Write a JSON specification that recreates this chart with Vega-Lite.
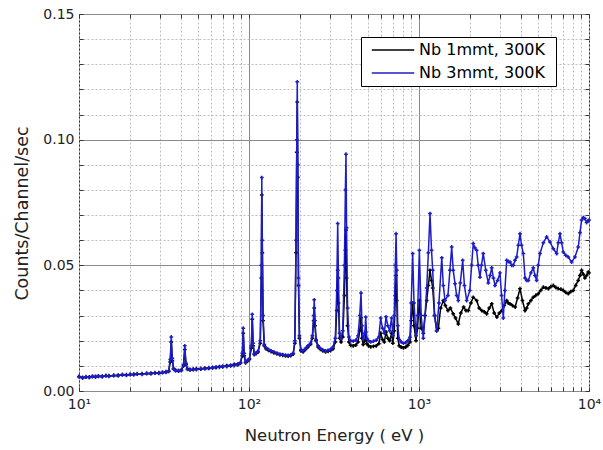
{
  "$schema": "https://vega.github.io/schema/vega-lite/v6.json",
  "autosize": {"type": "none"},
  "padding": {"left": 79, "top": 14, "right": 14, "bottom": 59},
  "width": 510,
  "height": 377,
  "background": "#ffffff",
  "config": {
    "view": {"stroke": "#333333", "strokeWidth": 1},
    "font": "DejaVu Sans",
    "axis": {"labelFont": "DejaVu Sans", "titleFont": "DejaVu Sans", "labelColor": "#222", "titleColor": "#222", "titleFontWeight": "normal"}
  },
  "datasets": {
    "k": [
      {"e":10,"c":0.0058},{"e":10.5,"c":0.0054},{"e":11,"c":0.0055},{"e":11.5,"c":0.0056},{"e":12,"c":0.0057},{"e":12.5,"c":0.0058},{"e":13,"c":0.0058},{"e":13.7,"c":0.0059},{"e":14.4,"c":0.006},{"e":15,"c":0.0061},{"e":16,"c":0.0061},{"e":17,"c":0.0063},{"e":18,"c":0.0064},{"e":19,"c":0.0065},{"e":20,"c":0.0065},{"e":21,"c":0.0067},{"e":22,"c":0.0067},{"e":23.5,"c":0.0069},{"e":25,"c":0.0069},{"e":26.5,"c":0.0071},{"e":28,"c":0.0071},{"e":29.5,"c":0.0073},{"e":31,"c":0.0073},{"e":32.5,"c":0.0077},{"e":33.7,"c":0.0078},{"e":34.4,"c":0.0115},{"e":34.9,"c":0.0195},{"e":35.4,"c":0.012},{"e":36,"c":0.0088},{"e":37,"c":0.0083},{"e":38.5,"c":0.0079},{"e":40,"c":0.0084},{"e":41.2,"c":0.01},{"e":41.9,"c":0.0165},{"e":42.6,"c":0.0105},{"e":43.5,"c":0.0088},{"e":45,"c":0.0086},{"e":47,"c":0.0085},{"e":49,"c":0.0089},{"e":52,"c":0.0087},{"e":55,"c":0.0091},{"e":58,"c":0.009},{"e":61,"c":0.0094},{"e":64,"c":0.0093},{"e":67,"c":0.0097},{"e":70,"c":0.0096},{"e":74,"c":0.0101},{"e":78,"c":0.01},{"e":82,"c":0.0106},{"e":86,"c":0.0104},{"e":89,"c":0.0112},{"e":91.3,"c":0.014},{"e":92.5,"c":0.023},{"e":93.7,"c":0.014},{"e":95.5,"c":0.0112},{"e":98,"c":0.0119},{"e":100.5,"c":0.0125},{"e":103.2,"c":0.017},{"e":104.5,"c":0.0285},{"e":105.8,"c":0.018},{"e":107.5,"c":0.0145},{"e":110,"c":0.0149},{"e":113,"c":0.0155},{"e":116.5,"c":0.019},{"e":118.2,"c":0.045},{"e":118.9,"c":0.078},{"e":119.8,"c":0.055},{"e":121,"c":0.028},{"e":123,"c":0.018},{"e":126,"c":0.0168},{"e":130,"c":0.0162},{"e":135,"c":0.0157},{"e":140,"c":0.0152},{"e":146,"c":0.0148},{"e":152,"c":0.0144},{"e":158,"c":0.0142},{"e":164,"c":0.014},{"e":170,"c":0.0139},{"e":176,"c":0.0141},{"e":182,"c":0.0147},{"e":186,"c":0.019},{"e":189,"c":0.055},{"e":191,"c":0.095},{"e":192.3,"c":0.115},{"e":193.7,"c":0.085},{"e":195.5,"c":0.042},{"e":198,"c":0.021},{"e":202,"c":0.016},{"e":208,"c":0.0156},{"e":215,"c":0.0165},{"e":222,"c":0.0175},{"e":230,"c":0.0185},{"e":236,"c":0.021},{"e":240,"c":0.028},{"e":242,"c":0.033},{"e":244.5,"c":0.026},{"e":248,"c":0.02},{"e":255,"c":0.0175},{"e":263,"c":0.0166},{"e":272,"c":0.016},{"e":282,"c":0.0156},{"e":292,"c":0.0158},{"e":302,"c":0.0161},{"e":312,"c":0.0168},{"e":322,"c":0.0195},{"e":328,"c":0.032},{"e":332.5,"c":0.048},{"e":336,"c":0.035},{"e":341,"c":0.021},{"e":348,"c":0.0195},{"e":356,"c":0.0215},{"e":364,"c":0.038},{"e":369,"c":0.056},{"e":372,"c":0.064},{"e":375,"c":0.045},{"e":380,"c":0.026},{"e":387,"c":0.0195},{"e":396,"c":0.0182},{"e":410,"c":0.018},{"e":425,"c":0.0183},{"e":438,"c":0.0195},{"e":448,"c":0.024},{"e":456,"c":0.029},{"e":462,"c":0.021},{"e":470,"c":0.0185},{"e":480,"c":0.02},{"e":486,"c":0.0235},{"e":493,"c":0.0188},{"e":505,"c":0.018},{"e":520,"c":0.0176},{"e":540,"c":0.0178},{"e":560,"c":0.018},{"e":580,"c":0.0188},{"e":595,"c":0.023},{"e":610,"c":0.0205},{"e":625,"c":0.0195},{"e":640,"c":0.0235},{"e":655,"c":0.021},{"e":672,"c":0.02},{"e":690,"c":0.023},{"e":702,"c":0.019},{"e":715,"c":0.024},{"e":726,"c":0.038},{"e":733,"c":0.046},{"e":740,"c":0.036},{"e":750,"c":0.021},{"e":765,"c":0.018},{"e":785,"c":0.0175},{"e":810,"c":0.0172},{"e":835,"c":0.0175},{"e":860,"c":0.0182},{"e":885,"c":0.0195},{"e":900,"c":0.028},{"e":918,"c":0.035},{"e":935,"c":0.026},{"e":960,"c":0.02},{"e":980,"c":0.025},{"e":1005,"c":0.036},{"e":1030,"c":0.025},{"e":1060,"c":0.023},{"e":1085,"c":0.03},{"e":1110,"c":0.036},{"e":1135,"c":0.042},{"e":1161,"c":0.048},{"e":1185,"c":0.044},{"e":1204,"c":0.041},{"e":1235,"c":0.03},{"e":1271,"c":0.024},{"e":1300,"c":0.025},{"e":1340,"c":0.033},{"e":1390,"c":0.036},{"e":1430,"c":0.034},{"e":1480,"c":0.032},{"e":1530,"c":0.033},{"e":1590,"c":0.0307},{"e":1640,"c":0.029},{"e":1703,"c":0.0267},{"e":1760,"c":0.031},{"e":1830,"c":0.0334},{"e":1890,"c":0.032},{"e":1950,"c":0.032},{"e":2020,"c":0.035},{"e":2085,"c":0.0373},{"e":2183,"c":0.036},{"e":2260,"c":0.033},{"e":2340,"c":0.032},{"e":2420,"c":0.0315},{"e":2500,"c":0.0307},{"e":2590,"c":0.033},{"e":2678,"c":0.0347},{"e":2770,"c":0.031},{"e":2870,"c":0.0294},{"e":2970,"c":0.031},{"e":3070,"c":0.032},{"e":3170,"c":0.034},{"e":3280,"c":0.036},{"e":3350,"c":0.035},{"e":3431,"c":0.0347},{"e":3550,"c":0.034},{"e":3680,"c":0.0334},{"e":3800,"c":0.037},{"e":3927,"c":0.0407},{"e":4060,"c":0.036},{"e":4204,"c":0.032},{"e":4300,"c":0.033},{"e":4398,"c":0.0347},{"e":4550,"c":0.036},{"e":4703,"c":0.0373},{"e":4860,"c":0.038},{"e":5030,"c":0.0387},{"e":5200,"c":0.04},{"e":5390,"c":0.0413},{"e":5580,"c":0.041},{"e":5770,"c":0.0407},{"e":5960,"c":0.0415},{"e":6167,"c":0.042},{"e":6380,"c":0.0412},{"e":6600,"c":0.0407},{"e":6830,"c":0.0405},{"e":7060,"c":0.04},{"e":7300,"c":0.0392},{"e":7553,"c":0.0387},{"e":7800,"c":0.0395},{"e":8080,"c":0.04},{"e":8350,"c":0.042},{"e":8646,"c":0.044},{"e":8850,"c":0.046},{"e":9045,"c":0.048},{"e":9250,"c":0.0465},{"e":9463,"c":0.045},{"e":9680,"c":0.046},{"e":9900,"c":0.0473},{"e":10000,"c":0.047}
    ],
    "b": [
      {"e":10,"c":0.0056},{"e":10.5,"c":0.0051},{"e":11,"c":0.0057},{"e":11.5,"c":0.0053},{"e":12,"c":0.0059},{"e":12.5,"c":0.0055},{"e":13,"c":0.006},{"e":13.7,"c":0.0056},{"e":14.4,"c":0.0062},{"e":15,"c":0.0058},{"e":16,"c":0.0063},{"e":17,"c":0.006},{"e":18,"c":0.0066},{"e":19,"c":0.0062},{"e":20,"c":0.0067},{"e":21,"c":0.0064},{"e":22,"c":0.0069},{"e":23.5,"c":0.0066},{"e":25,"c":0.0071},{"e":26.5,"c":0.0068},{"e":28,"c":0.0073},{"e":29.5,"c":0.007},{"e":31,"c":0.0075},{"e":32.5,"c":0.0074},{"e":33.7,"c":0.008},{"e":34.4,"c":0.0125},{"e":34.9,"c":0.0215},{"e":35.4,"c":0.013},{"e":36,"c":0.009},{"e":37,"c":0.008},{"e":38.5,"c":0.0082},{"e":40,"c":0.0081},{"e":41.2,"c":0.0105},{"e":41.9,"c":0.018},{"e":42.6,"c":0.011},{"e":43.5,"c":0.0086},{"e":45,"c":0.0083},{"e":47,"c":0.0088},{"e":49,"c":0.0085},{"e":52,"c":0.009},{"e":55,"c":0.0088},{"e":58,"c":0.0093},{"e":61,"c":0.0091},{"e":64,"c":0.0096},{"e":67,"c":0.0094},{"e":70,"c":0.0099},{"e":74,"c":0.0097},{"e":78,"c":0.0103},{"e":82,"c":0.0101},{"e":86,"c":0.0108},{"e":89,"c":0.011},{"e":91.3,"c":0.015},{"e":92.5,"c":0.025},{"e":93.7,"c":0.015},{"e":95.5,"c":0.0115},{"e":98,"c":0.0122},{"e":100.5,"c":0.0128},{"e":103.2,"c":0.018},{"e":104.5,"c":0.0305},{"e":105.8,"c":0.019},{"e":107.5,"c":0.0148},{"e":110,"c":0.0152},{"e":113,"c":0.0158},{"e":116.5,"c":0.02},{"e":118.2,"c":0.05},{"e":118.9,"c":0.0849},{"e":119.8,"c":0.06},{"e":121,"c":0.03},{"e":123,"c":0.0185},{"e":126,"c":0.0172},{"e":130,"c":0.0166},{"e":135,"c":0.016},{"e":140,"c":0.0156},{"e":146,"c":0.0151},{"e":152,"c":0.0147},{"e":158,"c":0.0145},{"e":164,"c":0.0143},{"e":170,"c":0.0142},{"e":176,"c":0.0144},{"e":182,"c":0.015},{"e":186,"c":0.02},{"e":189,"c":0.06},{"e":191,"c":0.1},{"e":192.3,"c":0.123},{"e":193.7,"c":0.09},{"e":195.5,"c":0.045},{"e":198,"c":0.022},{"e":202,"c":0.0165},{"e":208,"c":0.016},{"e":215,"c":0.017},{"e":222,"c":0.018},{"e":230,"c":0.019},{"e":236,"c":0.022},{"e":240,"c":0.03},{"e":242,"c":0.0363},{"e":244.5,"c":0.028},{"e":248,"c":0.0205},{"e":255,"c":0.018},{"e":263,"c":0.017},{"e":272,"c":0.0164},{"e":282,"c":0.016},{"e":292,"c":0.0162},{"e":302,"c":0.0166},{"e":312,"c":0.0175},{"e":322,"c":0.021},{"e":328,"c":0.04},{"e":332.5,"c":0.0666},{"e":336,"c":0.045},{"e":341,"c":0.023},{"e":348,"c":0.021},{"e":356,"c":0.024},{"e":364,"c":0.05},{"e":369,"c":0.08},{"e":372,"c":0.0942},{"e":375,"c":0.065},{"e":380,"c":0.033},{"e":387,"c":0.0215},{"e":396,"c":0.02},{"e":410,"c":0.0198},{"e":425,"c":0.0202},{"e":438,"c":0.022},{"e":448,"c":0.03},{"e":456,"c":0.039},{"e":462,"c":0.026},{"e":470,"c":0.0205},{"e":480,"c":0.023},{"e":486,"c":0.0294},{"e":493,"c":0.021},{"e":505,"c":0.02},{"e":520,"c":0.0195},{"e":540,"c":0.0198},{"e":560,"c":0.0202},{"e":580,"c":0.0215},{"e":595,"c":0.029},{"e":610,"c":0.025},{"e":625,"c":0.023},{"e":640,"c":0.0295},{"e":655,"c":0.026},{"e":672,"c":0.024},{"e":690,"c":0.029},{"e":702,"c":0.022},{"e":715,"c":0.03},{"e":726,"c":0.05},{"e":733,"c":0.0626},{"e":740,"c":0.048},{"e":750,"c":0.026},{"e":765,"c":0.0205},{"e":785,"c":0.0195},{"e":810,"c":0.019},{"e":835,"c":0.0192},{"e":860,"c":0.02},{"e":885,"c":0.0214},{"e":900,"c":0.035},{"e":918,"c":0.0547},{"e":935,"c":0.035},{"e":960,"c":0.022},{"e":980,"c":0.03},{"e":1005,"c":0.056},{"e":1030,"c":0.03},{"e":1060,"c":0.021},{"e":1085,"c":0.03},{"e":1110,"c":0.041},{"e":1135,"c":0.055},{"e":1161,"c":0.0706},{"e":1185,"c":0.056},{"e":1204,"c":0.048},{"e":1235,"c":0.03},{"e":1271,"c":0.024},{"e":1310,"c":0.035},{"e":1361,"c":0.053},{"e":1390,"c":0.042},{"e":1422,"c":0.036},{"e":1480,"c":0.038},{"e":1520,"c":0.048},{"e":1557,"c":0.0573},{"e":1590,"c":0.048},{"e":1629,"c":0.0427},{"e":1665,"c":0.038},{"e":1703,"c":0.036},{"e":1750,"c":0.043},{"e":1807,"c":0.052},{"e":1850,"c":0.042},{"e":1908,"c":0.036},{"e":1990,"c":0.04},{"e":2040,"c":0.05},{"e":2085,"c":0.0587},{"e":2130,"c":0.057},{"e":2183,"c":0.056},{"e":2230,"c":0.05},{"e":2284,"c":0.0453},{"e":2330,"c":0.05},{"e":2388,"c":0.0547},{"e":2470,"c":0.048},{"e":2556,"c":0.043},{"e":2620,"c":0.046},{"e":2678,"c":0.049},{"e":2740,"c":0.045},{"e":2800,"c":0.042},{"e":2900,"c":0.044},{"e":2995,"c":0.047},{"e":3060,"c":0.038},{"e":3132,"c":0.029},{"e":3200,"c":0.04},{"e":3280,"c":0.052},{"e":3350,"c":0.0515},{"e":3431,"c":0.0513},{"e":3510,"c":0.05},{"e":3589,"c":0.05},{"e":3670,"c":0.052},{"e":3754,"c":0.0533},{"e":3840,"c":0.058},{"e":3927,"c":0.0626},{"e":4010,"c":0.058},{"e":4108,"c":0.0547},{"e":4204,"c":0.045},{"e":4300,"c":0.044},{"e":4398,"c":0.044},{"e":4550,"c":0.047},{"e":4703,"c":0.049},{"e":4810,"c":0.046},{"e":4920,"c":0.044},{"e":5030,"c":0.05},{"e":5147,"c":0.0547},{"e":5390,"c":0.059},{"e":5636,"c":0.0613},{"e":5896,"c":0.0593},{"e":6167,"c":0.0566},{"e":6451,"c":0.0547},{"e":6600,"c":0.059},{"e":6748,"c":0.0626},{"e":6900,"c":0.059},{"e":7060,"c":0.0553},{"e":7300,"c":0.054},{"e":7553,"c":0.0533},{"e":7901,"c":0.0513},{"e":8265,"c":0.0533},{"e":8646,"c":0.0573},{"e":8850,"c":0.063},{"e":9045,"c":0.068},{"e":9250,"c":0.069},{"e":9463,"c":0.0686},{"e":9680,"c":0.067},{"e":9900,"c":0.0677},{"e":10000,"c":0.068}
    ],
    "dummy": [{"e": 10, "c": 0}]
  },
  "resolve": {"axis": {"x": "independent", "y": "independent"}},
  "layer": [
    {
      "data": {"name": "k"},
      "mark": {"type": "line", "strokeWidth": 1.5, "point": {"filled": true, "size": 14, "shape": "cross"}},
      "encoding": {
        "x": {"field": "e", "type": "quantitative",
          "scale": {"type": "log", "domain": [10, 10000], "nice": false},
          "axis": {
            "values": [10,20,30,40,50,60,70,80,90,100,200,300,400,500,600,700,800,900,1000,2000,3000,4000,5000,6000,7000,8000,9000,10000],
            "labelExpr": "datum.value == 10 ? '10¹' : datum.value == 100 ? '10²' : datum.value == 1000 ? '10³' : datum.value == 10000 ? '10⁴' : ''",
            "title": "Neutron Energy ( eV )",
            "titleFontSize": 16.5, "titlePadding": 16,
            "labelFontSize": 14, "labelPadding": 10, "labelFlush": false,
            "domain": false, "tickSize": -4, "tickColor": "#333",
            "grid": true,
            "gridDash": {"condition": {"test": "datum.value == 100 || datum.value == 1000", "value": []}, "value": [2, 2]},
            "gridColor": {"condition": {"test": "datum.value == 100 || datum.value == 1000", "value": "#8a8a8a"}, "value": "#bdbdbd"}
          }
        },
        "y": {"field": "c", "type": "quantitative",
          "scale": {"domain": [0, 0.15], "nice": false},
          "axis": {
            "values": [0,0.01,0.02,0.03,0.04,0.05,0.06,0.07,0.08,0.09,0.1,0.11,0.12,0.13,0.14,0.15],
            "labelExpr": "abs(datum.value*20 - round(datum.value*20)) < 0.000001 ? format(datum.value, '.2f') : ''",
            "title": "Counts/Channel/sec",
            "titleFontSize": 17.5, "titlePadding": 11, "titleY": 199,
            "labelFontSize": 14, "labelPadding": 9, "labelFlush": false,
            "domain": false, "tickSize": -4, "tickColor": "#333",
            "grid": true,
            "gridDash": {"condition": {"test": "abs(datum.value*20 - round(datum.value*20)) < 0.000001", "value": []}, "value": [2, 2]},
            "gridColor": {"condition": {"test": "abs(datum.value*20 - round(datum.value*20)) < 0.000001", "value": "#8a8a8a"}, "value": "#bdbdbd"}
          }
        },
        "color": {"datum": "Nb  1mmt, 300K", "type": "nominal",
          "scale": {"domain": ["Nb  1mmt, 300K", "Nb  3mmt, 300K"], "range": ["#000000", "#1c1cc8"]},
          "legend": {
            "orient": "none", "legendX": 282, "legendY": 23, "title": null,
            "symbolType": "M-3,0H3", "symbolSize": 200, "symbolStrokeWidth": 1.5, "symbolOffset": 19,
            "labelFontSize": 16, "labelFont": "DejaVu Sans", "labelColor": "#000", "labelOffset": 18,
            "strokeColor": "#000", "fillColor": "#fff", "padding": 5, "rowPadding": 7
          }
        }
      }
    },
    {
      "data": {"name": "b"},
      "mark": {"type": "line", "strokeWidth": 1.5, "point": {"filled": true, "size": 14, "shape": "cross"}},
      "encoding": {
        "x": {"field": "e", "type": "quantitative", "axis": null},
        "y": {"field": "c", "type": "quantitative", "axis": null},
        "color": {"datum": "Nb  3mmt, 300K", "type": "nominal"}
      }
    },
    {
      "data": {"name": "dummy"},
      "mark": {"type": "point", "opacity": 0},
      "encoding": {
        "x": {"field": "e", "type": "quantitative",
          "axis": {"orient": "top", "values": [10,20,30,40,50,60,70,80,90,100,200,300,400,500,600,700,800,900,1000,2000,3000,4000,5000,6000,7000,8000,9000,10000],
            "labels": false, "title": null, "domain": false, "grid": false, "tickSize": -4, "tickColor": "#333"}},
        "y": {"field": "c", "type": "quantitative",
          "axis": {"orient": "right", "values": [0,0.01,0.02,0.03,0.04,0.05,0.06,0.07,0.08,0.09,0.1,0.11,0.12,0.13,0.14,0.15],
            "labels": false, "title": null, "domain": false, "grid": false, "tickSize": -4, "tickColor": "#333"}}
      }
    }
  ]
}
